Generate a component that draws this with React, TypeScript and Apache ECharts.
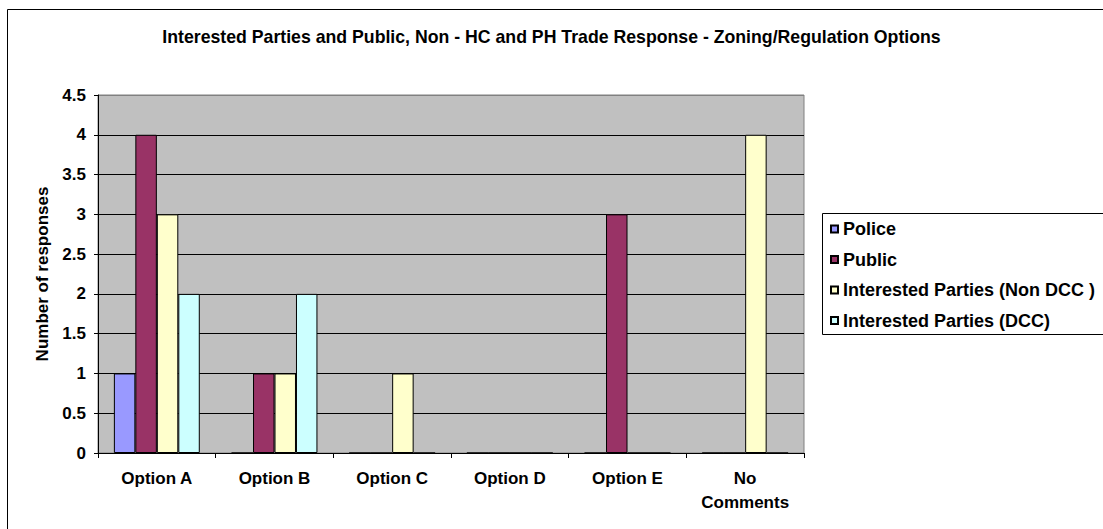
import React, { useEffect, useRef } from "react";
import * as echarts from "echarts";

const title = "Interested Parties and Public, Non - HC and PH Trade Response - Zoning/Regulation Options";
const categories = ["Option A", "Option B", "Option C", "Option D", "Option E", "No\nComments"];
const seriesNames = ["Police", "Public", "Interested Parties (Non DCC )", "Interested Parties (DCC)"];
const police = [1, 0, 0, 0, 0, 0];
const publicVals = [4, 1, 0, 0, 3, 0];
const nonDcc = [3, 1, 1, 0, 0, 4];
const dcc = [2, 2, 0, 0, 0, 0];
const colors = ["#9999FF", "#993366", "#FFFFCC", "#CCFFFF"];
const yAxisName = "Number of responses";

const FONT = "'Liberation Sans', Arial, sans-serif";

export default function App() {
  const ref = useRef<HTMLDivElement>(null);
  useEffect(() => {
    if (!ref.current) return;
    const chart = echarts.init(ref.current, undefined, { renderer: "svg" });
    const data = [police, publicVals, nonDcc, dcc];
    const splitColors = ["#000", "#000", "#000", "#000", "#000", "#000", "#000", "#000", "#000", "#808080"];
    chart.setOption({
      animation: false,
      backgroundColor: "#ffffff",
      textStyle: { fontFamily: FONT },
      title: {
        text: title,
        left: "center",
        top: 21,
        textStyle: { fontFamily: FONT, fontWeight: "bold", fontSize: 17.7, color: "#000", lineHeight: 22 },
      },
      graphic: [
        {
          type: "rect",
          shape: { x: 7.5, y: 9.5, width: 1200, height: 700 },
          style: { fill: "none", stroke: "#000", lineWidth: 1 },
          z: 0,
          silent: true,
        },
        {
          type: "rect",
          shape: { x: 822.5, y: 213.5, width: 400, height: 121 },
          style: { fill: "#fff", stroke: "#000", lineWidth: 1 },
          z: 1,
          silent: true,
        },
      ],
      legend: {
        orient: "vertical",
        left: 825,
        top: 214,
        itemWidth: 7,
        itemHeight: 7,
        itemGap: 10.5,
        icon: "rect",
        data: seriesNames,
        textStyle: { fontFamily: FONT, fontWeight: "bold", fontSize: 18, color: "#000", lineHeight: 20 },
        z: 5,
      },
      grid: {
        left: 98,
        top: 95,
        right: 299,
        bottom: 76,
        show: true,
        backgroundColor: "#C0C0C0",
        borderColor: "#808080",
        borderWidth: 1,
      },
      xAxis: {
        type: "category",
        data: categories,
        axisLine: { lineStyle: { color: "#000", width: 1 } },
        axisTick: { show: true, length: 5, lineStyle: { color: "#000" } },
        axisLabel: {
          fontFamily: FONT,
          fontWeight: "bold",
          fontSize: 17,
          color: "#000",
          margin: 13,
          lineHeight: 24,
          interval: 0,
        },
      },
      yAxis: {
        type: "value",
        min: 0,
        max: 4.5,
        interval: 0.5,
        name: yAxisName,
        nameLocation: "middle",
        nameGap: 46,
        nameTextStyle: { fontFamily: FONT, fontWeight: "bold", fontSize: 17, color: "#000" },
        axisLine: { show: true, lineStyle: { color: "#000", width: 1 } },
        axisTick: { show: true, length: 4, lineStyle: { color: "#000" } },
        axisLabel: { fontFamily: FONT, fontWeight: "bold", fontSize: 17, color: "#000", margin: 12 },
        splitLine: { show: true, lineStyle: { color: splitColors, width: 1 } },
      },
      series: seriesNames.map((name, i) => ({
        name,
        type: "bar",
        data: data[i],
        barGap: "0%",
        barCategoryGap: "27%",
        itemStyle: { color: colors[i], borderColor: "#000", borderWidth: 1 },
      })),
    });
    return () => chart.dispose();
  }, []);
  return (
    <div
      ref={ref}
      style={{ position: "absolute", left: 0, top: 0, width: 1103, height: 529 }}
    />
  );
}
